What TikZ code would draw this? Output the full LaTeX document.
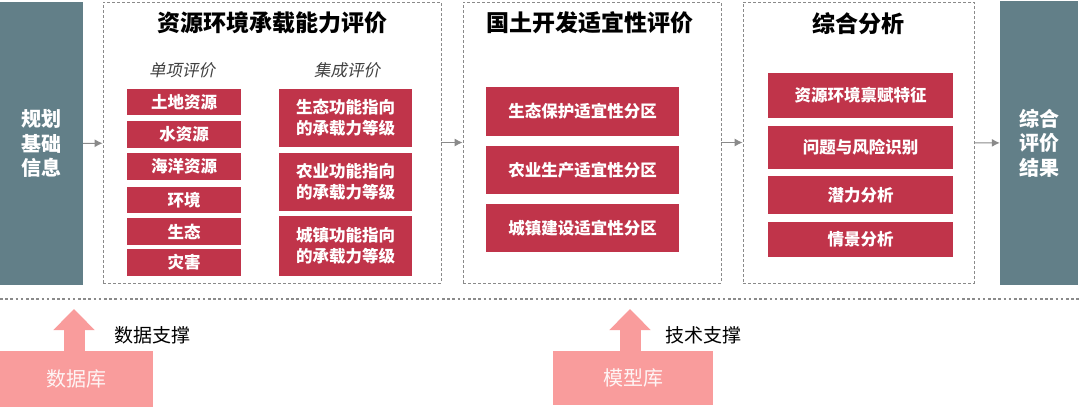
\documentclass[tikz,border=0pt]{standalone}
\usepackage{fontspec}
\setmainfont{Noto Sans CJK SC}
\newfontfamily\cjkit[FakeSlant=0.2]{Noto Sans CJK SC}
\usepackage{tikz}
\usetikzlibrary{arrows.meta}
\definecolor{slate}{HTML}{627F88}
\definecolor{crimson}{HTML}{C0344A}
\definecolor{pinkish}{HTML}{F99C9C}
\definecolor{framegray}{HTML}{8A8A8A}

\begin{document}
\begin{tikzpicture}[x=1pt,y=-1pt,
  sidebox/.style={fill=slate,text=white,font=\fontsize{20}{24.5}\selectfont\bfseries,align=center,inner sep=0pt},
  stage/.style={draw=framegray,dashed,dash pattern=on 3pt off 2pt,line width=0.8pt,inner sep=0pt},
  redbox/.style={fill=crimson,text=white,font=\fontsize{16.5}{21}\selectfont\bfseries,align=center,inner sep=0pt},
  title/.style={font=\fontsize{23}{26}\selectfont\bfseries},
  subtitle/.style={font=\cjkit\fontsize{16.5}{20}\selectfont,text=black!75},
  flow/.style={draw=framegray,line width=1pt,-{Latex[length=8pt,width=8pt]}},
  lib/.style={fill=pinkish,text=white!90!pinkish,font=\fontsize{20}{24}\selectfont,inner sep=0pt},
  support/.style={draw=pinkish,line width=21pt,-{Triangle[width=40pt,length=21pt]}}]
\useasboundingbox (0,0) rectangle (1080,407);
\fill[white] (0,0) rectangle (1080,407);

\node[sidebox,minimum width=83pt,minimum height=283pt] (base) at (41.5,143.5) {规划\\基础\\信息};
\node[sidebox,minimum width=78pt,minimum height=284pt] (result) at (1039,143) {综合\\评价\\结果};

\node[stage,minimum width=338pt,minimum height=281pt] (capacity) at (272,142.5) {};
\node[stage,minimum width=258pt,minimum height=281pt] (suit) at (592,142.5) {};
\node[stage,minimum width=231pt,minimum height=281pt] (synth) at (858.5,142.5) {};

\node[title] (t1) at (272,23) {资源环境承载能力评价};
\node[title] (t2) at (590,23) {国土开发适宜性评价};
\node[title] (t3) at (858,24) {综合分析};

\node[subtitle] (s1) at (182,70) {单项评价};
\node[subtitle] (s2) at (347,70) {集成评价};

\node[redbox,minimum width=114pt,minimum height=26.5pt] (land) at (184,102) {土地资源};
\node[redbox,minimum width=114pt,minimum height=26.5pt] (water) at (184,134.5) {水资源};
\node[redbox,minimum width=114pt,minimum height=26.5pt] (sea) at (184,166.5) {海洋资源};
\node[redbox,minimum width=114pt,minimum height=26.5pt] (env) at (184,200) {环境};
\node[redbox,minimum width=114pt,minimum height=26.5pt] (eco) at (184,231.5) {生态};
\node[redbox,minimum width=114pt,minimum height=26.5pt] (hazard) at (184,262.5) {灾害};

\node[redbox,minimum width=133pt,minimum height=58pt] (ecolevel) at (345.5,117.5) {生态功能指向\\的承载力等级};
\node[redbox,minimum width=133pt,minimum height=58pt] (agrilevel) at (345.5,181.5) {农业功能指向\\的承载力等级};
\node[redbox,minimum width=133pt,minimum height=60pt] (townlevel) at (345.5,245.5) {城镇功能指向\\的承载力等级};

\node[redbox,minimum width=193pt,minimum height=48.5pt] (ecozone) at (582.5,111.5) {生态保护适宜性分区};
\node[redbox,minimum width=193pt,minimum height=48pt] (agrizone) at (582.5,170) {农业生产适宜性分区};
\node[redbox,minimum width=193pt,minimum height=48pt] (townzone) at (582.5,228) {城镇建设适宜性分区};

\node[redbox,minimum width=185pt,minimum height=45pt] (endow) at (860.5,95.5) {资源环境禀赋特征};
\node[redbox,minimum width=185pt,minimum height=43pt] (risk) at (860.5,147.5) {问题与风险识别};
\node[redbox,minimum width=185pt,minimum height=38pt] (potential) at (860.5,195) {潜力分析};
\node[redbox,minimum width=185pt,minimum height=35pt] (scenario) at (860.5,239.5) {情景分析};

\draw[flow] (base) -- (capacity);
\draw[flow] (capacity) -- (suit);
\draw[flow] (suit) -- (synth);
\draw[flow] (synth) -- (result);

\coordinate (left) at (0,299);
\coordinate (right) at (1080,299);
\draw[framegray,line width=2.6pt,dash pattern=on 2.6pt off 2.6pt] (left) -- (right);

\node[lib,minimum width=153pt,minimum height=56pt] (db) at (76.5,379) {数据库};
\node[lib,minimum width=160pt,minimum height=54pt] (model) at (633,378) {模型库};
\coordinate (dbtip) at (74,309);
\coordinate (modeltip) at (630,309);
\draw[support] (db.north -| dbtip) -- (dbtip);
\draw[support] (model.north -| modeltip) -- (modeltip);
\node[font=\fontsize{19}{22}\selectfont] (dbsup) at (152.5,335) {数据支撑};
\node[font=\fontsize{19}{22}\selectfont] (modelsup) at (703.5,335) {技术支撑};
\end{tikzpicture}
\end{document}
